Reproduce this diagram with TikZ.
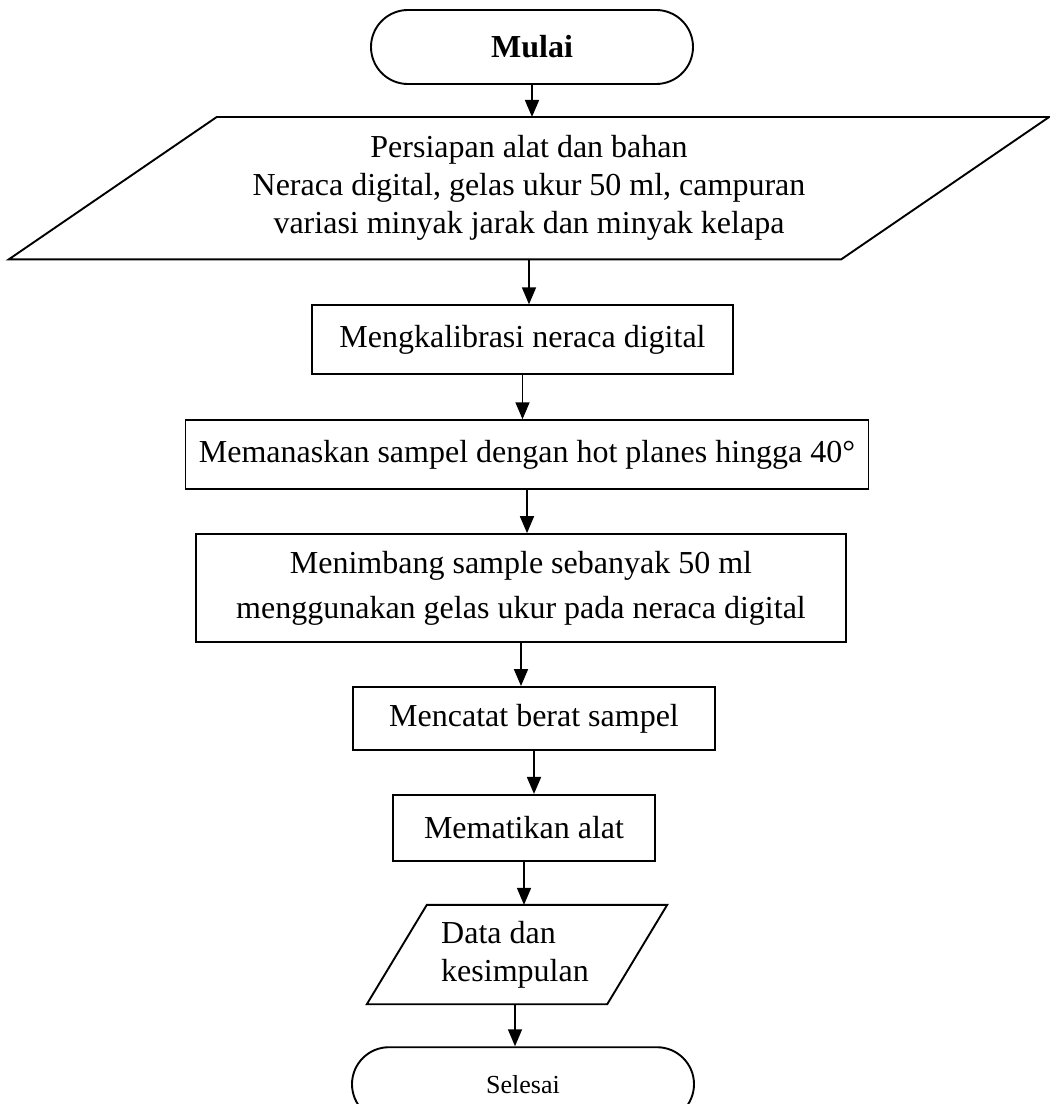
\documentclass[tikz,border=0pt]{standalone}
\usepackage{fontspec}
\setmainfont{Liberation Serif}
\usetikzlibrary{arrows.meta, positioning}

\begin{document}
\begin{tikzpicture}[
  x=1pt, y=-1pt,
  node distance=43pt,
  terminal/.style={rectangle, rounded corners=37pt, draw, line width=1.9pt, minimum width=#1, minimum height=74pt, inner sep=0pt},
  process/.style={rectangle, draw, line width=1.9pt, inner sep=0pt, align=center, font=\fontsize{32}{38}\selectfont},
  io/.style={rectangle, inner sep=0pt, align=center, font=\fontsize{32}{38}\selectfont},
  slant/.style={line width=1.9pt, line join=miter},
  arrow/.style={-{Triangle[length=17pt, width=14pt]}, line width=1.7pt}
]
\useasboundingbox (0,0) rectangle (1050,1104);

\node[terminal=322pt, font=\bfseries\fontsize{32}{38}\selectfont] (mulai) at (532,47) {Mulai};
\node[io, minimum width=832pt, minimum height=142pt, below=32pt of mulai, xshift=-3pt] (bahan) {Persiapan alat dan bahan\\Neraca digital, gelas ukur 50 ml, campuran\\variasi minyak jarak dan minyak kelapa};
\node[process, minimum width=421pt, minimum height=69pt, below=45pt of bahan, xshift=-6.5pt] (kalibrasi) {Mengkalibrasi neraca digital};
\node[process, minimum width=683pt, minimum height=69pt, below=44pt of kalibrasi, xshift=4.5pt] (panas) {Memanaskan sampel dengan hot planes hingga 40°};
\node[process, minimum width=650pt, minimum height=108pt, below=of panas, xshift=-6pt] (timbang) {Menimbang sample sebanyak 50 ml\\[7pt]menggunakan gelas ukur pada neraca digital};
\node[process, minimum width=362pt, minimum height=63pt, below=of timbang, xshift=13pt] (catat) {Mencatat berat sampel};
\node[process, minimum width=262pt, minimum height=66pt, below=of catat, xshift=-10pt] (matikan) {Mematikan alat};
\node[io, align=left, minimum width=240pt, minimum height=99pt, below=of matikan, xshift=-9pt] (data) {Data dan\\kesimpulan};
\node[terminal=342pt, font=\fontsize{26}{30}\selectfont, below=42pt of data, xshift=8pt] (selesai) {Selesai};

% slanted outlines of the input/output blocks
\draw[slant] ([xshift=104pt]bahan.north west) -- ([xshift=104pt]bahan.north east) -- ([xshift=-104pt]bahan.south east) -- ([xshift=-104pt]bahan.south west) -- cycle;
\draw[slant] ([xshift=32pt]data.north west) -- ([xshift=32pt]data.north east) -- ([xshift=-28pt]data.south east) -- ([xshift=-28pt]data.south west) -- cycle;

\draw[arrow] (mulai.south) -- (mulai.south |- bahan.north);
\draw[arrow] (bahan.south) -- (bahan.south |- kalibrasi.north);
\draw[arrow] (kalibrasi.south) -- (kalibrasi.south |- panas.north);
\draw[arrow] (panas.south) -- (panas.south |- timbang.north);
\draw[arrow] (timbang.south) -- (timbang.south |- catat.north);
\draw[arrow] (catat.south) -- (catat.south |- matikan.north);
\draw[arrow] (matikan.south) -- (matikan.south |- data.north);
\draw[arrow] (data.south) -- (data.south |- selesai.north);

\end{tikzpicture}
\end{document}
